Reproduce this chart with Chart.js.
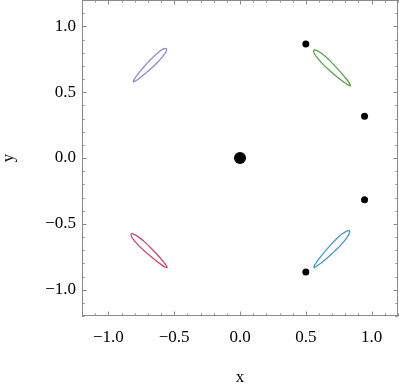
<!DOCTYPE html>
<html>
<head>
<meta charset="utf-8">
<script src="https://cdn.jsdelivr.net/npm/chart.js@4.4.1/dist/chart.umd.min.js"></script>
<style>
    html, body { margin: 0; padding: 0; background: #ffffff; }
    #wrap { position: relative; width: 399px; height: 386px; overflow: hidden; }
    canvas { position: absolute; left: 0; top: 0; }
</style>
</head>
<body>
<div id="wrap"><canvas id="loopChart" width="399" height="386"></canvas></div>
<script>
// Axis range and labelled ticks
const axisMin = -1.2;
const axisMax = 1.2;
const majorTicks = [-1.0, -0.5, 0.0, 0.5, 1.0];

// Closed curves as [x, y]
const purpleLoop = [[-0.703, 0.723], [-0.748, 0.671], [-0.784, 0.626], [-0.806, 0.594], [-0.811, 0.579], [-0.796, 0.584], [-0.764, 0.606], [-0.719, 0.642], [-0.667, 0.687], [-0.619, 0.735], [-0.581, 0.779], [-0.560, 0.813], [-0.559, 0.831], [-0.577, 0.830], [-0.611, 0.809], [-0.655, 0.771]];
const greenLoop = [[0.719, 0.702], [0.769, 0.647], [0.809, 0.598], [0.834, 0.563], [0.839, 0.548], [0.823, 0.553], [0.788, 0.577], [0.738, 0.615], [0.681, 0.664], [0.627, 0.715], [0.586, 0.762], [0.562, 0.798], [0.561, 0.818], [0.581, 0.817], [0.618, 0.795], [0.666, 0.755]];
const redLoop = [[-0.707, -0.723], [-0.652, -0.769], [-0.603, -0.806], [-0.569, -0.828], [-0.554, -0.833], [-0.559, -0.818], [-0.584, -0.786], [-0.624, -0.739], [-0.673, -0.687], [-0.725, -0.637], [-0.772, -0.599], [-0.807, -0.578], [-0.826, -0.577], [-0.824, -0.596], [-0.801, -0.630], [-0.760, -0.675]];
const blueLoop = [[0.715, -0.711], [0.660, -0.761], [0.611, -0.801], [0.577, -0.826], [0.561, -0.831], [0.566, -0.815], [0.590, -0.780], [0.628, -0.730], [0.677, -0.673], [0.728, -0.619], [0.775, -0.578], [0.811, -0.555], [0.831, -0.553], [0.830, -0.573], [0.808, -0.610], [0.768, -0.658]];

// Black points
const smallDotsX = [0.5, 0.946, 0.946, 0.5];
const smallDotsY = [0.865, 0.318, -0.318, -0.865];
const bigDotX = [0.0];
const bigDotY = [0.0];

document.addEventListener('DOMContentLoaded', function() {
    const serif = "'Liberation Serif', 'Times New Roman', serif";
    const frameColor = '#8a8a8a';

    function toPoints(loop) {
        const pts = loop.map(function(p) { return { x: p[0], y: p[1] }; });
        pts.push({ x: loop[0][0], y: loop[0][1] });
        return pts;
    }

    function zip(xs, ys) {
        return xs.map(function(x, i) { return { x: x, y: ys[i] }; });
    }

    function loopDataset(loop, color) {
        return {
            data: toPoints(loop),
            showLine: true,
            borderColor: color,
            borderWidth: 1.3,
            pointRadius: 0,
            tension: 0.3,
            fill: false
        };
    }

    function isMajor(v) {
        return majorTicks.some(function(m) { return Math.abs(m - v) < 1e-6; });
    }

    function tickLabel(v) {
        if (!isMajor(v)) return '';
        const s = Math.abs(v).toFixed(1);
        return v < -1e-6 ? '\u2212' + s : s;
    }

    // Mathematica style frame with inward ticks on all four sides
    const framePlugin = {
        id: 'frameTicks',
        afterDraw: function(chart) {
            const ctx = chart.ctx;
            const a = chart.chartArea;
            const xs = chart.scales.x;
            const ys = chart.scales.y;
            ctx.save();
            ctx.strokeStyle = frameColor;
            ctx.lineWidth = 1;
            ctx.strokeRect(Math.round(a.left) + 0.5, Math.round(a.top) + 0.5,
                Math.round(a.right - a.left) - 1, Math.round(a.bottom - a.top) - 1);
            ctx.beginPath();
            xs.ticks.forEach(function(t) {
                const px = Math.round(xs.getPixelForValue(t.value)) + 0.5;
                const len = isMajor(t.value) ? 4.5 : 2.5;
                ctx.moveTo(px, a.bottom); ctx.lineTo(px, a.bottom - len);
                ctx.moveTo(px, a.top); ctx.lineTo(px, a.top + len);
            });
            ys.ticks.forEach(function(t) {
                const py = Math.round(ys.getPixelForValue(t.value)) + 0.5;
                const len = isMajor(t.value) ? 4.5 : 2.5;
                ctx.moveTo(a.left, py); ctx.lineTo(a.left + len, py);
                ctx.moveTo(a.right, py); ctx.lineTo(a.right - len, py);
            });
            ctx.stroke();
            ctx.restore();
        }
    };

    const ctx = document.getElementById('loopChart').getContext('2d');
    new Chart(ctx, {
        type: 'scatter',
        data: {
            datasets: [
                loopDataset(purpleLoop, '#8d8dc9'),
                loopDataset(greenLoop, '#5c9e4e'),
                loopDataset(redLoop, '#bf4f6d'),
                loopDataset(blueLoop, '#4a95c2'),
                {
                    data: zip(smallDotsX, smallDotsY),
                    backgroundColor: '#000000',
                    borderWidth: 0,
                    pointRadius: 3.5
                },
                {
                    data: zip(bigDotX, bigDotY),
                    backgroundColor: '#000000',
                    borderWidth: 0,
                    pointRadius: 6
                }
            ]
        },
        options: {
            responsive: false,
            animation: false,
            layout: { autoPadding: false, padding: { top: 0, right: 1, bottom: 0, left: 0 } },
            plugins: {
                legend: { display: false },
                tooltip: { enabled: false }
            },
            scales: {
                x: {
                    type: 'linear',
                    min: axisMin,
                    max: axisMax,
                    grid: { display: false, drawTicks: false },
                    border: { display: false },
                    ticks: {
                        stepSize: 0.1,
                        autoSkip: false,
                        maxRotation: 0,
                        padding: 11,
                        color: '#000000',
                        font: { family: serif, size: 17 },
                        callback: tickLabel
                    },
                    title: {
                        display: true,
                        text: 'x',
                        color: '#000000',
                        font: { family: serif, size: 17, lineHeight: 1 },
                        padding: { top: 0, bottom: 0 }
                    },
                    afterFit: function(scale) {
                        scale.height = 70;
                        scale.paddingLeft = 0;
                        scale.paddingRight = 0;
                    }
                },
                y: {
                    type: 'linear',
                    min: axisMin,
                    max: axisMax,
                    grid: { display: false, drawTicks: false },
                    border: { display: false },
                    ticks: {
                        stepSize: 0.1,
                        autoSkip: false,
                        padding: 6,
                        color: '#000000',
                        font: { family: serif, size: 17 },
                        callback: tickLabel
                    },
                    title: {
                        display: true,
                        text: 'y',
                        color: '#000000',
                        font: { family: serif, size: 17, lineHeight: 1 },
                        padding: { top: 0, bottom: 7 }
                    },
                    afterFit: function(scale) {
                        scale.width = 82;
                        scale.paddingTop = 0;
                        scale.paddingBottom = 0;
                    }
                }
            }
        },
        plugins: [framePlugin]
    });
});
</script>
</body>
</html>
